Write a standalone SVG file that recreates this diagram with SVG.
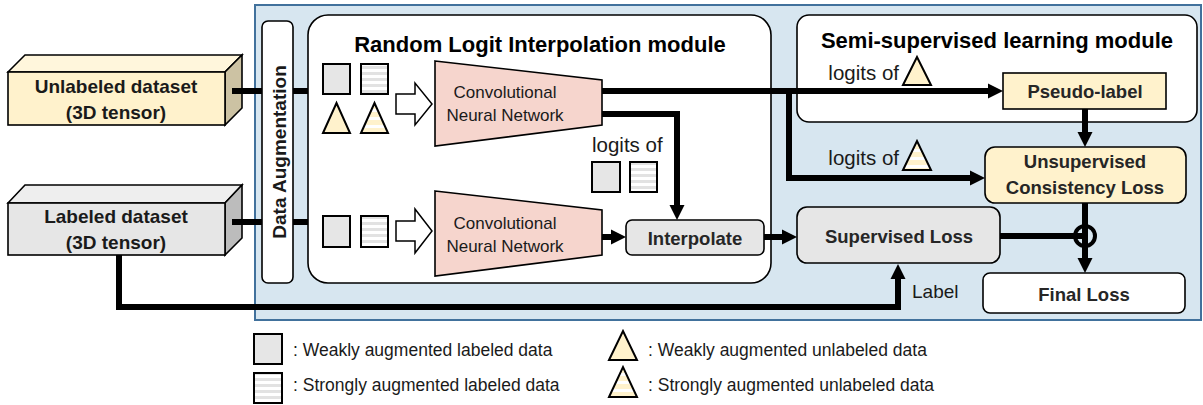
<svg xmlns="http://www.w3.org/2000/svg" width="1203" height="405" viewBox="0 0 1203 405">
<style>
text{font-family:"Liberation Sans",Arial,sans-serif;fill:#1a1a1a}
.b{font-weight:bold}
.t19{font-size:19px;font-weight:bold;text-anchor:middle}
.title{font-size:22px;font-weight:bold;text-anchor:middle;fill:#000}
.cnn{font-size:17px;text-anchor:middle}
.lbl{font-size:18.5px;font-weight:bold;text-anchor:middle;fill:#262626}
.lg{font-size:17.5px}
.box{stroke:#000;stroke-width:1.6}
.ln{fill:none;stroke:#000;stroke-width:6}
.lna{fill:none;stroke:#000;stroke-width:6;marker-end:url(#ah)}
.sq{fill:#e6e6e6;stroke:#000;stroke-width:2}
.sqs{fill:url(#sg);stroke:#000;stroke-width:2}
.tri{fill:#fff2cc;stroke:#000;stroke-width:2;stroke-linejoin:miter}
.tris{fill:url(#sy);stroke:#000;stroke-width:2}
.blk{fill:#fff;stroke:#000;stroke-width:1.5}
.cnnshape{fill:#f6d5cd;stroke:#000;stroke-width:1.6}
</style>
<defs>
<marker id="ah" markerUnits="userSpaceOnUse" markerWidth="16" markerHeight="16" refX="1" refY="8" orient="auto">
<path d="M0,0.5 L15,8 L0,15.5 z" fill="#000"/>
</marker>
<pattern id="sg" patternUnits="userSpaceOnUse" width="6" height="6">
<rect width="6" height="6" fill="#fff"/><rect width="6" height="3" fill="#e2e2e2"/>
</pattern>
<pattern id="sy" patternUnits="userSpaceOnUse" width="8" height="8">
<rect width="8" height="8" fill="#fff2cc"/><rect y="5" width="8" height="3" fill="#fff"/>
</pattern>
</defs>

<!-- background panel -->
<rect id="panel" x="255" y="5" width="946" height="315" fill="#d7e6f0" stroke="#41719c" stroke-width="2"/>

<!-- datasets -->
<g id="unlabeled-dataset">
<polygon points="8,72 25,55 242,55 225,72" fill="#fff6dc" class="box"/>
<polygon points="225,72 242,55 242,108 225,125" fill="#ccc2a3" class="box"/>
<rect x="8" y="72" width="217" height="53" fill="#fff2cc" class="box"/>
<text class="t19" x="116" y="93">Unlabeled dataset</text>
<text class="t19" x="116" y="119">(3D tensor)</text>
</g>
<g id="labeled-dataset">
<polygon points="8,203 25,185 242,185 225,203" fill="#eeeeee" class="box"/>
<polygon points="225,203 242,185 242,238 225,255" fill="#bcbcbc" class="box"/>
<rect x="8" y="203" width="217" height="52" fill="#e6e6e6" class="box"/>
<text class="t19" x="116" y="223">Labeled dataset</text>
<text class="t19" x="116" y="249">(3D tensor)</text>
</g>

<g id="data-augmentation">
<rect x="262" y="21" width="31" height="262" rx="6" fill="#fff" class="box"/>
<text class="t19" transform="translate(286,152) rotate(-90)">Data Augmentation</text>
</g>

<!-- RLI module -->
<g id="rli-module">
<rect x="308" y="15" width="463" height="268" rx="20" fill="#fff" class="box"/>
<text class="title" x="540" y="52">Random Logit Interpolation module</text>
</g>
<g id="rli-inputs-top">
<rect x="323" y="64" width="27" height="30" class="sq"/>
<rect x="361" y="64" width="27" height="30" class="sqs"/>
<polygon points="323,133 336.5,103 350,133" class="tri"/>
<polygon points="361,133 374.5,103 388,133" class="tris"/>
<polygon points="396,94 415,94 415,83 432,104 415,125 415,114 396,114" class="blk"/>
</g>
<g id="cnn-top">
<polygon points="435,61 602,80 602,125 435,146" class="cnnshape"/>
<text class="cnn" x="505" y="98">Convolutional</text>
<text class="cnn" x="505" y="121">Neural Network</text>
</g>
<g id="rli-inputs-bottom">
<rect x="323" y="216" width="27" height="31" class="sq"/>
<rect x="361" y="216" width="27" height="31" class="sqs"/>
<polygon points="396,221 415,221 415,209 432,231 415,253 415,241 396,241" class="blk"/>
</g>
<g id="cnn-bottom">
<polygon points="435,191 602,210 602,255 435,276" class="cnnshape"/>
<text class="cnn" x="505" y="229">Convolutional</text>
<text class="cnn" x="505" y="252">Neural Network</text>
</g>
<g id="logits-labeled">
<text x="592" y="152" style="font-size:20.5px">logits of</text>
<rect x="592" y="162" width="28" height="30" class="sq"/>
<rect x="630" y="162" width="27" height="30" class="sqs"/>
</g>
<g id="interpolate">
<rect x="626" y="220" width="138" height="35" rx="6" fill="#e6e6e6" class="box"/>
<text class="lbl" x="695" y="245">Interpolate</text>
</g>

<!-- SSL module -->
<g id="ssl-module">
<rect x="797" y="15" width="400" height="107" rx="12" fill="#fff" class="box"/>
<text class="title" x="997" y="48">Semi-supervised learning module</text>
</g>
<g id="logits-weak">
<text x="899" y="80" style="font-size:20.5px;text-anchor:end">logits of</text>
<polygon points="903,85 917,57 931,85" class="tri"/>
</g>
<g id="logits-strong">
<text x="899" y="165" style="font-size:20.5px;text-anchor:end">logits of</text>
<polygon points="903,170 917,141 931,170" class="tris"/>
</g>
<g id="pseudo-label">
<rect x="1003" y="73" width="163" height="36" fill="#fff2cc" class="box"/>
<text class="lbl" x="1085" y="98">Pseudo-label</text>
</g>
<g id="unsup-loss">
<rect x="985" y="147" width="201" height="56" rx="10" fill="#fff2cc" class="box"/>
<text class="lbl" x="1085" y="168">Unsupervised</text>
<text class="lbl" x="1085" y="194">Consistency Loss</text>
</g>
<g id="sup-loss">
<rect x="797" y="207" width="203" height="56" rx="10" fill="#e6e6e6" class="box"/>
<text class="lbl" x="899" y="243">Supervised Loss</text>
</g>
<g id="final-loss">
<rect x="983" y="273" width="202" height="40" rx="7" fill="#fff" class="box"/>
<text class="lbl" x="1084" y="301">Final Loss</text>
</g>
<g id="sum">
<circle cx="1085" cy="236" r="10" fill="none" stroke="#000" stroke-width="4"/>
</g>
<text id="label-text" x="912" y="298" style="font-size:19px">Label</text>

<!-- connectors -->
<g id="connectors">
<path class="ln" d="M232,91 H262 M293,91 H308"/>
<path class="ln" d="M232,222 H262 M293,222 H308"/>
<path class="lna" d="M602,91 H989"/>
<path class="lna" d="M789,91 V178 H971"/>
<path class="lna" d="M602,114 H677 V206"/>
<path class="lna" d="M602,237 H612"/>
<path class="lna" d="M764,237 H783"/>
<path class="lna" d="M1085,109 V133"/>
<path class="lna" d="M1085,203 V259"/>
<path class="ln" d="M1000,236 H1085"/>
<path class="lna" d="M119,255 V307 H898 V278"/>
</g>

<!-- legend -->
<g id="legend">
<rect x="254" y="334" width="28" height="30" class="sq"/>
<text class="lg" x="293" y="356">: Weakly augmented labeled data</text>
<rect x="254" y="373" width="28" height="30" class="sqs"/>
<text class="lg" x="293" y="391">: Strongly augmented labeled data</text>
<polygon points="609,360 623,331 637,360" class="tri"/>
<text class="lg" x="648" y="356">: Weakly augmented unlabeled data</text>
<polygon points="609,397 623,367 637,397" class="tris"/>
<text class="lg" x="648" y="391">: Strongly augmented unlabeled data</text>
</g>
</svg>
